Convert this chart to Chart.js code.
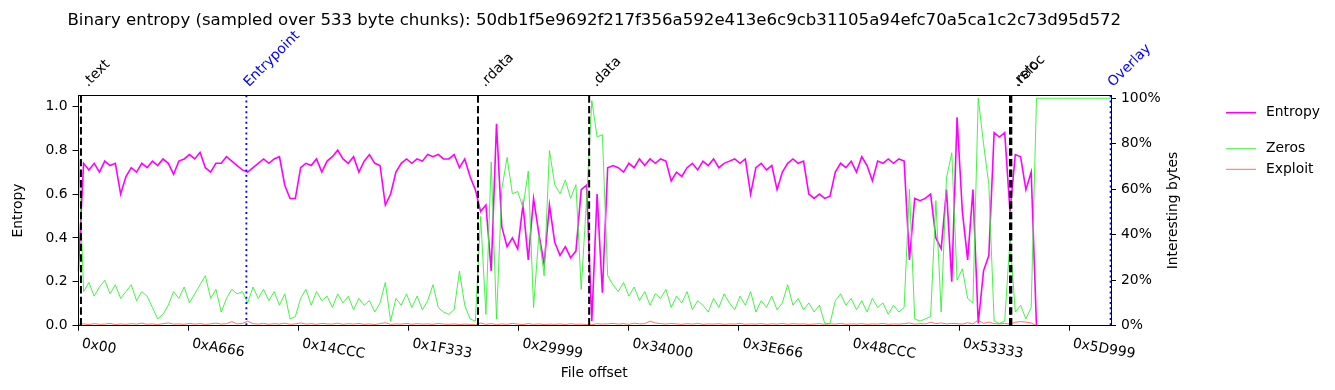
<!DOCTYPE html>
<html>
<head>
<meta charset="UTF-8">
<title>Binary entropy</title>
<script src="https://cdn.jsdelivr.net/npm/chart.js"></script>
<style>
  html, body { margin: 0; padding: 0; background: #fff; }
  canvas { display: block; }
</style>
</head>
<body>
<canvas id="chart" width="1335" height="390"></canvas>
<script>
// one sample every 0x800 bytes of the file
const CHUNK = 0x800;

const TITLE = 'Binary entropy (sampled over 533 byte chunks): 50db1f5e9692f217f356a592e413e6c9cb31105a94efc70a5ca1c2c73d95d572';

// entropy, 0..1 (left axis)
const entropy = [
  0.25, 0.74, 0.71, 0.74, 0.70, 0.75, 0.73, 0.74, 0.60, 0.68,
  0.72, 0.70, 0.74, 0.72, 0.75, 0.73, 0.76, 0.74, 0.69, 0.75,
  0.76, 0.78, 0.76, 0.79, 0.72, 0.70, 0.74, 0.74, 0.77, 0.75,
  0.73, 0.71, 0.70, 0.72, 0.74, 0.76, 0.74, 0.76, 0.77, 0.64,
  0.58, 0.58, 0.72, 0.74, 0.73, 0.76, 0.70, 0.75, 0.77, 0.80,
  0.76, 0.74, 0.77, 0.70, 0.75, 0.78, 0.74, 0.73, 0.55, 0.60,
  0.70, 0.74, 0.76, 0.74, 0.76, 0.75, 0.78, 0.77, 0.78, 0.76,
  0.76, 0.78, 0.72, 0.76, 0.68, 0.62, 0.52, 0.55, 0.25, 0.92,
  0.45, 0.36, 0.40, 0.35, 0.55, 0.30, 0.58, 0.42, 0.28, 0.55,
  0.38, 0.32, 0.36, 0.31, 0.34, 0.62, 0.64, 0.02, 0.60, 0.15,
  0.72, 0.73, 0.72, 0.70, 0.74, 0.72, 0.76, 0.73, 0.76, 0.74,
  0.76, 0.75, 0.66, 0.70, 0.68, 0.72, 0.74, 0.71, 0.75, 0.73,
  0.76, 0.72, 0.74, 0.75, 0.76, 0.74, 0.76, 0.60, 0.72, 0.74,
  0.71, 0.73, 0.62, 0.70, 0.74, 0.76, 0.74, 0.75, 0.60, 0.58,
  0.60, 0.58, 0.59, 0.70, 0.74, 0.72, 0.75, 0.70, 0.77, 0.73,
  0.66, 0.75, 0.74, 0.76, 0.74, 0.76, 0.75, 0.30, 0.58, 0.57,
  0.58, 0.60, 0.40, 0.35, 0.62, 0.20, 0.95, 0.52, 0.30, 0.62,
  0.01, 0.25, 0.32, 0.88, 0.86, 0.88, 0.52, 0.78, 0.77, 0.62,
  0.70, 0, 0, 0, 0, 0, 0, 0, 0, 0,
  0, 0, 0, 0, 0, 0
];

// share of zero bytes, % (right axis)
const zeros = [
  80, 15, 19, 13, 17, 20, 14, 18, 12, 15,
  18, 11, 15, 13, 8, 3, 5, 9, 15, 12,
  17, 10, 14, 18, 22, 12, 16, 6, 12, 16,
  14, 15, 10, 17, 12, 16, 11, 15, 9, 14,
  3, 4, 12, 16, 9, 15, 11, 13, 8, 14,
  10, 13, 7, 12, 9, 11, 6, 10, 19, 2,
  12, 9, 14, 8, 13, 7, 11, 18, 8, 6,
  5, 7, 24, 9, 3, 2, 48, 5, 72, 3,
  60, 74, 58, 59, 52, 68, 8, 40, 22, 77,
  62, 58, 64, 56, 62, 16, 55, 99, 83, 84,
  22, 18, 15, 19, 13, 17, 11, 15, 9, 14,
  12, 16, 8, 13, 10, 15, 7, 11, 9, 6,
  12, 8, 14, 10, 7, 13, 9, 15, 6, 11,
  8, 13, 7, 10, 18, 9, 12, 7, 10, 6,
  9, 1, 1, 11, 14, 9, 12, 7, 11, 6,
  12, 8, 10, 5, 9, 6, 8, 60, 3, 2,
  3, 4, 55, 6, 65, 76, 20, 25, 12, 10,
  100, 80, 62, 2, 1, 2, 38, 6, 9, 3,
  8, 100, 100, 100, 100, 100, 100, 100, 100, 100,
  100, 100, 100, 100, 100, 100
];

// share of exploit-like bytes, % (right axis)
const exploit = [
  0.6, 0.8, 0.5, 0.9, 0.6, 0.7, 1.0, 0.5, 0.8, 0.6,
  0.9, 0.7, 1.1, 0.6, 0.8, 0.5, 0.9, 1.2, 0.7, 0.8,
  0.6, 1.0, 0.7, 0.9, 0.6, 0.8, 1.1, 0.7, 0.9, 1.8,
  0.8, 1.0, 2.0, 0.9, 0.7, 1.0, 0.6, 0.9, 0.7, 1.1,
  0.6, 0.8, 1.2, 0.7, 0.9, 0.6, 1.0, 0.8, 0.7, 1.1,
  0.6, 0.9, 0.7, 1.0, 0.6, 0.8, 0.5, 0.9, 1.3, 0.6,
  0.8, 0.7, 1.0, 0.6, 0.9, 0.7, 0.8, 0.6, 1.0, 0.7,
  0.6, 0.8, 0.5, 0.7, 0.6, 0.4, 1.2, 0.6, 0.9, 0.5,
  0.8, 0.6, 1.0, 0.7, 0.5, 0.9, 0.6, 0.8, 0.5, 0.7,
  0.6, 0.8, 0.5, 0.9, 0.6, 0.7, 0.5, 0.4, 0.9, 0.7,
  0.8, 1.0, 0.7, 0.9, 0.6, 1.1, 0.8, 0.9, 2.0, 1.2,
  0.9, 0.7, 1.0, 0.8, 0.6, 0.9, 0.7, 1.0, 0.6, 0.8,
  0.7, 0.9, 0.6, 0.8, 0.7, 1.0, 0.6, 0.8, 0.7, 0.9,
  0.6, 0.8, 0.7, 1.0, 0.6, 0.9, 0.7, 0.8, 0.6, 0.7,
  0.9, 0.6, 0.8, 0.7, 1.0, 0.6, 0.8, 0.7, 0.9, 0.6,
  0.8, 0.7, 1.0, 0.6, 0.8, 0.7, 0.9, 1.2, 0.7, 0.9,
  0.8, 1.5, 0.9, 1.2, 0.8, 1.0, 0.9, 0.7, 1.3, 0.8,
  2.5, 1.0, 1.6, 0.9, 0.8, 1.0, 0.7, 1.5, 1.8, 1.6,
  1.2, 0, 0, 0, 0, 0, 0, 0, 0, 0,
  0, 0, 0, 0, 0, 0
];

// PE sections / markers
const sectionNames   = ['.text', 'Entrypoint', '.rdata', '.data', '.rsrc', '.reloc', 'Overlay'];
const sectionOffsets = [0x400, 0xFE00, 0x25C00, 0x30400, 0x58000, 0x58200, 0x61800];
const sectionMarker  = ['section', 'entry', 'section', 'section', 'section', 'section', 'entry'];

const xTickLabels = ['0x00', '0xA666', '0x14CCC', '0x1F333', '0x29999', '0x34000', '0x3E666', '0x48CCC', '0x53333', '0x5D999'];
const yTicks  = [0, 0.2, 0.4, 0.6, 0.8, 1.0];
const y2Ticks = [0, 20, 40, 60, 80, 100];

const FONT = '"DejaVu Sans", sans-serif';
Chart.defaults.font.family = FONT;
Chart.defaults.color = '#000';

const toPoints = arr => arr.map((v, i) => ({ x: i * CHUNK, y: v }));

// titles, section markers, rotated ticks, legend
const decorations = {
  id: 'decorations',
  afterDraw(chart) {
    const { ctx, chartArea: a, scales } = chart;
    const x = scales.x;
    ctx.save();

    // section lines
    sectionOffsets.forEach((off, i) => {
      const px = x.getPixelForValue(off);
      ctx.beginPath();
      if (sectionMarker[i] === 'entry') {
        ctx.strokeStyle = '#0000ff';
        ctx.lineWidth = 1.8;
        ctx.setLineDash([2, 3.3]);
      } else {
        ctx.strokeStyle = '#000';
        ctx.lineWidth = 2;
        ctx.setLineDash([7.4, 3.2]);
      }
      ctx.moveTo(px, a.top);
      ctx.lineTo(px, a.bottom);
      ctx.stroke();
    });
    ctx.setLineDash([]);

    // frame
    ctx.strokeStyle = '#000';
    ctx.lineWidth = 1;
    ctx.strokeRect(Math.round(a.left) + 0.5, Math.round(a.top) + 0.5,
                   Math.round(a.right - a.left) - 1, Math.round(a.bottom - a.top));

    ctx.font = '13.9px ' + FONT;
    ctx.textBaseline = 'alphabetic';
    ctx.textAlign = 'left';

    // section names, 45 degrees above the frame
    sectionOffsets.forEach((off, i) => {
      const px = x.getPixelForValue(off);
      const entry = sectionMarker[i] === 'entry';
      ctx.save();
      ctx.translate(px + (entry ? 2.5 : 7), a.top - 8);
      ctx.rotate(-Math.PI / 4);
      ctx.fillStyle = entry ? '#0000ff' : '#000';
      ctx.fillText(sectionNames[i], 0, 0);
      ctx.restore();
    });

    // x tick labels, tilted
    ctx.fillStyle = '#000';
    xTickLabels.forEach(lbl => {
      const px = x.getPixelForValue(parseInt(lbl, 16));
      ctx.save();
      ctx.translate(px + 3, a.bottom + 21.5);
      ctx.rotate(10 * Math.PI / 180);
      ctx.fillText(lbl, 0, 0);
      ctx.restore();
    });

    // axis titles
    const midY = (a.top + a.bottom) / 2;
    const midX = (a.left + a.right) / 2;
    ctx.textAlign = 'center';
    ctx.fillText('File offset', midX, 377);
    ctx.save();
    ctx.translate(22, midY);
    ctx.rotate(-Math.PI / 2);
    ctx.fillText('Entropy', 0, 0);
    ctx.restore();
    ctx.save();
    ctx.translate(1177, midY);
    ctx.rotate(-Math.PI / 2);
    ctx.fillText('Interesting bytes', 0, 0);
    ctx.restore();

    // title
    ctx.font = '16.6px ' + FONT;
    ctx.fillText(TITLE, midX, 25);

    // legend
    ctx.font = '13.9px ' + FONT;
    ctx.textAlign = 'left';
    ctx.textBaseline = 'middle';
    chart.data.datasets.forEach((ds, i) => {
      const ly = [112.7, 148.7, 169.3][i];
      ctx.beginPath();
      ctx.strokeStyle = ds.borderColor;
      ctx.lineWidth = ds.borderWidth;
      ctx.moveTo(1226, ly);
      ctx.lineTo(1256, ly);
      ctx.stroke();
      ctx.fillText(ds.label, 1266, ly);
    });

    ctx.restore();
  }
};

const axisGrid = { display: true, drawOnChartArea: false, drawTicks: true, tickLength: 5, color: '#000', lineWidth: 1 };

new Chart(document.getElementById('chart'), {
  type: 'line',
  data: {
    datasets: [
      { label: 'Entropy', data: toPoints(entropy), yAxisID: 'y', borderColor: '#ff00ff', borderWidth: 1.6, order: 3 },
      { label: 'Zeros', data: toPoints(zeros), yAxisID: 'y2', borderColor: 'rgb(50,240,50)', borderWidth: 0.9, order: 2 },
      { label: 'Exploit', data: toPoints(exploit), yAxisID: 'y2', borderColor: 'tomato', borderWidth: 0.9, order: 1 }
    ]
  },
  options: {
    responsive: false,
    animation: false,
    devicePixelRatio: 1,
    layout: { padding: { top: 95.3, left: 0, right: 0, bottom: 0 } },
    elements: { point: { radius: 0 }, line: { tension: 0 } },
    plugins: { legend: { display: false }, title: { display: false }, tooltip: { enabled: false } },
    scales: {
      x: {
        type: 'linear',
        min: -310,
        max: 399520,
        ticks: { display: false },
        grid: axisGrid,
        border: { display: false },
        afterBuildTicks: s => { s.ticks = xTickLabels.map(l => ({ value: parseInt(l, 16) })); },
        afterFit: s => { s.height = 64.3; }
      },
      y: {
        position: 'left',
        min: 0,
        max: 1.05,
        ticks: { font: { size: 13.9 }, padding: 5, color: '#000', callback: v => v.toFixed(1) },
        grid: axisGrid,
        border: { display: false },
        afterBuildTicks: s => { s.ticks = yTicks.map(v => ({ value: v })); },
        afterFit: s => { s.width = 77.5; }
      },
      y2: {
        position: 'right',
        min: 0,
        max: 101.3,
        ticks: { font: { size: 13.9 }, padding: 5, color: '#000', callback: v => v + '%' },
        grid: axisGrid,
        border: { display: false },
        afterBuildTicks: s => { s.ticks = y2Ticks.map(v => ({ value: v })); },
        afterFit: s => { s.width = 224; }
      }
    }
  },
  plugins: [decorations]
});
</script>
</body>
</html>
